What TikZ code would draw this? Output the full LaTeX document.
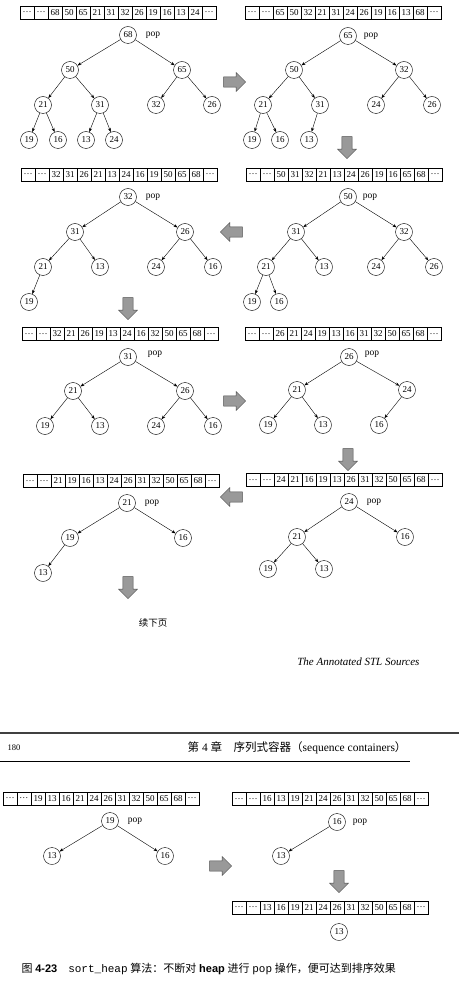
\documentclass[tikz,border=0pt]{standalone}
\usepackage{fontspec}
\setmainfont{Liberation Serif}
\setsansfont{Liberation Sans}
\setmonofont{Liberation Mono}
\newfontfamily\cjk{Noto Sans CJK SC}
\usetikzlibrary{positioning}
\usetikzlibrary{shapes.arrows}
\usetikzlibrary{arrows.meta}

\tikzset{
  hn/.style={circle, draw, minimum size=17pt, inner sep=0pt, font=\fontsize{9}{9}\selectfont},
  cell/.style={draw, minimum width=14pt, minimum height=13pt, inner sep=0pt, font=\fontsize{9}{9}\selectfont},
  done/.style={cell, line width=0.9pt},
  edge/.style={-{Stealth[length=4pt, width=3pt]}, line width=0.4pt},
  poplbl/.style={inner sep=0pt, font=\fontsize{9.5}{9.5}\selectfont},
  blockarrow/.style={single arrow, draw=black!70, fill=black!40, inner sep=4.5pt,
    minimum height=22pt, minimum width=19pt, single arrow head extend=4pt}
}

% one array row: name, left x, middle y, first sorted cell, values
\newcommand{\heaprow}[5]{%
  \foreach \v [count=\i] in {\ldots,\ldots,#5,\ldots}{%
    \ifnum\i<#4\relax
      \node[cell] (#1-\i) at ({#2+7+(\i-1)*14},#3) {\v};
    \else\ifnum\i=14\relax
      \node[cell] (#1-\i) at ({#2+7+(\i-1)*14},#3) {\v};
    \else
      \node[done] (#1-\i) at ({#2+7+(\i-1)*14},#3) {\v};
    \fi\fi
  }%
}

\begin{document}
\begin{tikzpicture}[x=1pt, y=-1pt]
\useasboundingbox (0,0) rectangle (459,981);

% first panel
\heaprow{ra}{20}{12.5}{14}{68,50,65,21,31,32,26,19,16,13,24}
\node[hn] (a68) at (128,35) {68};
\node[poplbl, right=9pt of a68] (apop) {pop};
\node[hn] (a50) at (70,70) {50};
\node[hn] (a65) at (182,70) {65};
\node[hn] (a21) at (43,105) {21};
\node[hn] (a31) at (100,105) {31};
\node[hn] (a32) at (156,105) {32};
\node[hn] (a26) at (212,105) {26};
\node[hn] (a19) at (29,140) {19};
\node[hn] (a16) at (58,140) {16};
\node[hn] (a13) at (86,140) {13};
\node[hn] (a24) at (114,140) {24};
\draw[edge] (a68) -- (a50);
\draw[edge] (a68) -- (a65);
\draw[edge] (a50) -- (a21);
\draw[edge] (a50) -- (a31);
\draw[edge] (a65) -- (a32);
\draw[edge] (a65) -- (a26);
\draw[edge] (a21) -- (a19);
\draw[edge] (a21) -- (a16);
\draw[edge] (a31) -- (a13);
\draw[edge] (a31) -- (a24);

\node[blockarrow] (ar1) at (232,82) {};

% second panel
\heaprow{rb}{245}{12.5}{13}{65,50,32,21,31,24,26,19,16,13,68}
\node[hn] (b65) at (348,36) {65};
\node[poplbl, right=7pt of b65] (bpop) {pop};
\node[hn] (b50) at (294,70) {50};
\node[hn] (b32) at (404,70) {32};
\node[hn] (b21) at (263,105) {21};
\node[hn] (b31) at (320,105) {31};
\node[hn] (b24) at (376,105) {24};
\node[hn] (b26) at (432,105) {26};
\node[hn] (b19) at (252,140) {19};
\node[hn] (b16) at (280,140) {16};
\node[hn] (b13) at (309,140) {13};
\draw[edge] (b65) -- (b50);
\draw[edge] (b65) -- (b32);
\draw[edge] (b50) -- (b21);
\draw[edge] (b50) -- (b31);
\draw[edge] (b32) -- (b24);
\draw[edge] (b32) -- (b26);
\draw[edge] (b21) -- (b19);
\draw[edge] (b21) -- (b16);
\draw[edge] (b31) -- (b13);

\node[blockarrow, shape border rotate=270] (ar2) at (347,145) {};

% fourth panel (right)
\heaprow{rd}{246}{174.5}{12}{50,31,32,21,13,24,26,19,16,65,68}
\node[hn] (d50) at (348,197) {50};
\node[poplbl, right=6pt of d50] (dpop) {pop};
\node[hn] (d31) at (296,232) {31};
\node[hn] (d32) at (404,232) {32};
\node[hn] (d21) at (266,267) {21};
\node[hn] (d13) at (324,267) {13};
\node[hn] (d24) at (376,267) {24};
\node[hn] (d26) at (434,267) {26};
\node[hn] (d19) at (252,302) {19};
\node[hn] (d16) at (279,302) {16};
\draw[edge] (d50) -- (d31);
\draw[edge] (d50) -- (d32);
\draw[edge] (d31) -- (d21);
\draw[edge] (d31) -- (d13);
\draw[edge] (d32) -- (d24);
\draw[edge] (d32) -- (d26);
\draw[edge] (d21) -- (d19);
\draw[edge] (d21) -- (d16);

\node[blockarrow, shape border rotate=180] (ar3) at (234,232) {};

% third panel (left)
\heaprow{rc}{21}{174.5}{11}{32,31,26,21,13,24,16,19,50,65,68}
\node[hn] (c32) at (128,197) {32};
\node[poplbl, right=9pt of c32] (cpop) {pop};
\node[hn] (c31) at (75,232) {31};
\node[hn] (c26) at (185,232) {26};
\node[hn] (c21) at (43,267) {21};
\node[hn] (c13) at (100,267) {13};
\node[hn] (c24) at (156,267) {24};
\node[hn] (c16) at (213,267) {16};
\node[hn] (c19) at (29,302) {19};
\draw[edge] (c32) -- (c31);
\draw[edge] (c32) -- (c26);
\draw[edge] (c31) -- (c21);
\draw[edge] (c31) -- (c13);
\draw[edge] (c26) -- (c24);
\draw[edge] (c26) -- (c16);
\draw[edge] (c21) -- (c19);

\node[blockarrow, shape border rotate=270] (ar4) at (128,306) {};

% fifth panel
\heaprow{re}{22}{334}{10}{32,21,26,19,13,24,16,32,50,65,68}
\node[hn] (e31) at (128,357) {31};
\node[poplbl, right=11pt of e31, yshift=3pt] (epop) {pop};
\node[hn] (e21) at (73,391) {21};
\node[hn] (e26) at (185,391) {26};
\node[hn] (e19) at (45,426) {19};
\node[hn] (e13) at (100,426) {13};
\node[hn] (e24) at (156,426) {24};
\node[hn] (e16) at (213,426) {16};
\draw[edge] (e31) -- (e21);
\draw[edge] (e31) -- (e26);
\draw[edge] (e21) -- (e19);
\draw[edge] (e21) -- (e13);
\draw[edge] (e26) -- (e24);
\draw[edge] (e26) -- (e16);

\node[blockarrow] (ar5) at (232,401) {};

% sixth panel
\heaprow{rf}{245}{334}{9}{26,21,24,19,13,16,31,32,50,65,68}
\node[hn] (f26) at (349,357) {26};
\node[poplbl, right=7pt of f26, yshift=3pt] (fpop) {pop};
\node[hn] (f21) at (297,390) {21};
\node[hn] (f24) at (407,390) {24};
\node[hn] (f19) at (268,425) {19};
\node[hn] (f13) at (323,425) {13};
\node[hn] (f16) at (379,425) {16};
\draw[edge] (f26) -- (f21);
\draw[edge] (f26) -- (f24);
\draw[edge] (f21) -- (f19);
\draw[edge] (f21) -- (f13);
\draw[edge] (f24) -- (f16);

\node[blockarrow, shape border rotate=270] (ar6) at (348,457) {};

% eighth panel (right)
\heaprow{rh}{246}{480}{8}{24,21,16,19,13,26,31,32,50,65,68}
\node[hn] (h24) at (349,502) {24};
\node[poplbl, right=9pt of h24] (hpop) {pop};
\node[hn] (h21) at (297,537) {21};
\node[hn] (h16) at (405,537) {16};
\node[hn] (h19) at (268,569) {19};
\node[hn] (h13) at (324,569) {13};
\draw[edge] (h24) -- (h21);
\draw[edge] (h24) -- (h16);
\draw[edge] (h21) -- (h19);
\draw[edge] (h21) -- (h13);

\node[blockarrow, shape border rotate=180] (ar7) at (234,497) {};

% seventh panel (left)
\heaprow{rg}{23}{481}{7}{21,19,16,13,24,26,31,32,50,65,68}
\node[hn] (g21) at (127,503) {21};
\node[poplbl, right=9pt of g21] (gpop) {pop};
\node[hn] (g19) at (70,538) {19};
\node[hn] (g16) at (183,538) {16};
\node[hn] (g13) at (43,573) {13};
\draw[edge] (g21) -- (g19);
\draw[edge] (g21) -- (g16);
\draw[edge] (g19) -- (g13);

\node[blockarrow, shape border rotate=270] (ar8) at (128,585) {};
\node[font=\cjk\fontsize{9.5}{9.5}\selectfont] (more) at (153,623) {续下页};

\node[font=\itshape\fontsize{11}{11}\selectfont, anchor=east] (src) at (423,662) {The Annotated STL Sources};

% page break
\draw[line width=2.5pt, black!75] (0,733) -- (459,733);
\node[font=\fontsize{8.5}{8.5}\selectfont, anchor=west] (pgno) at (4,748) {180};
\node[font=\fontsize{11.5}{11.5}\selectfont, anchor=east] (hdr) at (410,748)
  {{\cjk 第} 4 {\cjk 章}\quad{\cjk 序列式容器（}sequence containers{\cjk ）}};
\draw[line width=0.6pt] (0,761) -- (410,761);

% ninth panel
\heaprow{ri}{3}{798.5}{6}{19,13,16,21,24,26,31,32,50,65,68}
\node[hn] (i19) at (110,821) {19};
\node[poplbl, right=9pt of i19] (ipop) {pop};
\node[hn] (i13) at (52,856) {13};
\node[hn] (i16) at (165,856) {16};
\draw[edge] (i19) -- (i13);
\draw[edge] (i19) -- (i16);

\node[blockarrow] (ar9) at (218,866) {};

% tenth panel
\heaprow{rj}{232}{799}{5}{16,13,19,21,24,26,31,32,50,65,68}
\node[hn] (j16) at (337,822) {16};
\node[poplbl, right=7pt of j16] (jpop) {pop};
\node[hn] (j13) at (281,856) {13};
\draw[edge] (j16) -- (j13);

\node[blockarrow, shape border rotate=270] (ar10) at (339,879) {};

% last row
\heaprow{rk}{232}{907.5}{4}{13,16,19,21,24,26,31,32,50,65,68}
\node[hn] (k13) at (339,932) {13};

\node[anchor=west, font=\fontsize{11}{11}\selectfont] (cap) at (18,969)
  {{\cjk 图} {\sffamily\bfseries 4-23}\quad{\ttfamily sort\_heap} {\cjk 算法：不断对}
   {\sffamily\bfseries heap} {\cjk 进行} {\ttfamily pop} {\cjk 操作，便可达到排序效果}};
\end{tikzpicture}
\end{document}
